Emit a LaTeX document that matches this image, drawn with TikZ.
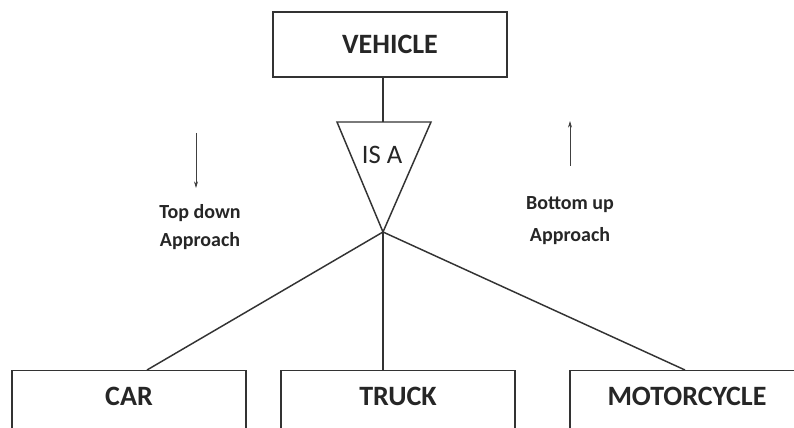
\documentclass[tikz,border=0pt]{standalone}
\usepackage{fontspec}
\setmainfont{Carlito}
\usetikzlibrary{calc,arrows.meta}
\begin{document}
\begin{tikzpicture}[x=0.75pt,y=-0.75pt,
  edge/.style={draw=black!80,line width=1.1pt},
  entity/.style={draw=black!80,line width=1.1pt,rectangle,inner sep=0pt,minimum width=234*0.75pt,
    font=\fontsize{21}{24}\selectfont\bfseries,text=black!85},
  topbox/.style={entity,text height=26pt,text depth=80pt},
  note/.style={font=\fontsize{15}{22}\selectfont\bfseries,text=black!85,align=center},
  dirarrow/.style={draw=black!75,line width=0.6pt,-{Stealth[length=5pt,width=3pt]}}]
\useasboundingbox[fill=white] (0,0) rectangle (794,428);
\clip (0,0) rectangle (794,428);
% parent
\node[entity,minimum width=234*0.75pt,minimum height=65*0.75pt] (vehicle) at (390,44.5) {VEHICLE};
% ISA triangle
\coordinate (isatop) at (383,122);
\coordinate (tl) at (337,122);
\coordinate (tr) at (431,122);
\coordinate (apex) at (383,232);
\draw[edge,line join=miter] (tl) -- (tr) -- (apex) -- cycle;
\node[font=\fontsize{20}{24}\selectfont,text=black!85] (isa) at (382,155) {IS A};
\draw[edge] (vehicle.south -| isatop) -- (isatop);
% children
\node[topbox,anchor=north] (car) at (129,370) {CAR};
\node[topbox,anchor=north] (truck) at (398,370) {TRUCK};
\node[topbox,anchor=north] (moto) at (687,370) {MOTORCYCLE};
\draw[edge] (apex) -- ($(car.north)+(18,0)$);
\draw[edge] (apex) -- (truck.north -| apex);
\draw[edge] (apex) -- ($(moto.north)+(-2,0)$);
% direction notes
\coordinate (td1) at (196,133);
\coordinate (td2) at (196,188);
\draw[dirarrow] (td1) -- (td2);
\node[note] (topdown) at (200,227) {Top down\\[-1pt]Approach};
\coordinate (bu1) at (570,166);
\coordinate (bu2) at (570,121);
\draw[dirarrow] (bu1) -- (bu2);
\node[note] (bottomup) at (570,221) {Bottom up\\[2pt]Approach};
\end{tikzpicture}
\end{document}
